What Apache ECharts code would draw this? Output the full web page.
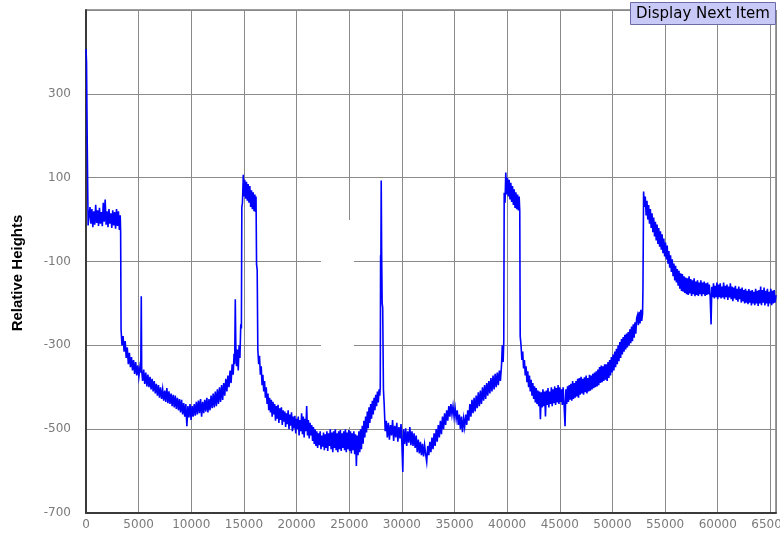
<!DOCTYPE html>
<html>
<head>
<meta charset="utf-8">
<script src="https://cdn.jsdelivr.net/npm/echarts@6/dist/echarts.min.js"></script>
<style>html,body{margin:0;padding:0;background:#fff}#chart{width:780px;height:533px}</style>
</head>
<body>
<div id="chart"></div>
<script>
// ---- data: [position, relative height] ----
const yAxisTitle = 'Relative Heights';
const buttonLabel = 'Display Next Item';
const xTickStep = 5000, xMax = 65536;
const yMin = -700, yMax = 500, yTickStep = 200;

const startSpike = [[0,407],[50,376],[100,376],[120,174],[180,174],[200,-14]];
const firstShelf = [[285,-15],[380,30],[470,-10],[560,25],[650,-18],[740,20],[830,-12],[920,35],[1010,-8],[1100,22],[1190,-15],[1280,28],[1370,-10],[1460,18],[1550,-16],[1640,40],[1730,-5],[1820,48],[1910,-12],[2000,20],[2090,-18],[2180,25],[2270,-10],[2360,15],[2450,-20],[2540,22],[2630,-14],[2720,18],[2810,-22],[2900,25],[2990,-15],[3080,20],[3170,-25],[3250,10],[3290,-30]];
const firstTrough = [[3330,-262],[3420,-300],[3520,-278],[3620,-315],[3720,-290],[3820,-330],[3920,-305],[4020,-345],[4120,-318],[4220,-352],[4320,-328],[4420,-360],[4520,-335],[4620,-368],[4720,-340],[4820,-372],[4920,-348],[5020,-375],[5120,-352],[5200,-365],[5250,-183],[5290,-360],[5380,-385],[5480,-358],[5580,-392],[5680,-365],[5780,-398],[5880,-370],[5980,-400],[6080,-375],[6180,-405],[6280,-380],[6380,-410],[6480,-385],[6580,-415],[6680,-392],[6780,-420],[6880,-395],[6980,-425],[7080,-400],[7180,-428],[7280,-405],[7380,-432],[7480,-408],[7580,-435],[7680,-402],[7780,-438],[7880,-410],[7980,-440],[8080,-415],[8180,-445],[8280,-418],[8380,-448],[8480,-420],[8580,-452],[8680,-425],[8780,-455],[8880,-428],[8980,-460],[9080,-430],[9180,-465],[9280,-438],[9380,-470],[9480,-440],[9580,-493],[9680,-445],[9780,-472],[9880,-440],[9980,-478],[10080,-445],[10180,-470],[10280,-440],[10380,-468],[10480,-435],[10580,-465],[10680,-432],[10780,-462],[10880,-428],[10980,-470],[11080,-435],[11180,-462],[11280,-430],[11380,-458],[11480,-425],[11580,-460],[11680,-428],[11780,-455],[11880,-420],[11980,-450],[12080,-415],[12180,-448],[12280,-410],[12380,-445],[12480,-405],[12580,-440],[12680,-400],[12780,-435],[12880,-395],[12980,-430],[13080,-390],[13180,-420],[13280,-380],[13380,-410],[13480,-372],[13580,-400],[13680,-360],[13780,-390],[13880,-345],[13980,-370],[14060,-320],[14120,-345],[14180,-190],[14230,-300],[14300,-350],[14380,-310],[14460,-360],[14540,-300],[14620,-330],[14700,-250],[14760,-260]];
const firstPeak = [[14800,30],[14860,40],[14940,107],[15000,55],[15080,95],[15160,50],[15240,90],[15320,45],[15400,85],[15480,40],[15560,80],[15640,30],[15720,70],[15800,25],[15880,65],[15960,20],[16040,60],[16100,18],[16150,55]];
const secondTrough = [[16200,-107],[16260,-120],[16320,-310],[16400,-345],[16480,-325],[16560,-370],[16640,-350],[16720,-395],[16800,-370],[16880,-410],[16960,-385],[17040,-425],[17120,-400],[17200,-440],[17280,-415],[17360,-455],[17440,-425],[17520,-460],[17600,-430],[17680,-470],[17760,-435],[17840,-465],[17920,-440],[18000,-480],[18080,-445],[18160,-475],[18240,-442],[18320,-485],[18400,-450],[18480,-478],[18560,-448],[18640,-490],[18720,-455],[18800,-482],[18880,-458],[18960,-495],[19040,-462],[19120,-488],[19200,-455],[19280,-500],[19360,-465],[19440,-492],[19520,-460],[19600,-505],[19680,-470],[19760,-498],[19840,-468],[19920,-510],[20000,-475],[20080,-500],[20160,-470],[20240,-515],[20320,-478],[20400,-505],[20480,-462],[20560,-512],[20640,-470],[20720,-520],[20800,-475],[20880,-505],[20960,-445],[21040,-515],[21120,-478],[21200,-522],[21280,-485],[21360,-515],[21440,-490],[21520,-528],[21600,-495],[21680,-535],[21760,-500],[21840,-540],[21920,-505],[22000,-545],[22080,-510],[22160,-538],[22240,-505],[22320,-548],[22400,-515],[22480,-542],[22560,-508],[22640,-550],[22720,-512],[22800,-545],[22880,-505],[22960,-552],[23040,-510],[23120,-540],[23200,-500],[23280,-548],[23360,-508],[23440,-555],[23520,-505],[23600,-545],[23680,-500],[23760,-550],[23840,-510],[23920,-555],[24000,-505],[24080,-548],[24160,-502],[24240,-552],[24320,-510],[24400,-545],[24480,-505],[24560,-550],[24640,-500],[24720,-555],[24800,-508],[24880,-548],[24960,-502],[25040,-552],[25120,-505],[25200,-558],[25280,-510],[25360,-550],[25440,-505],[25520,-560],[25600,-512],[25680,-588],[25760,-515],[25840,-562],[25920,-505],[26000,-555],[26080,-500],[26160,-548],[26240,-492],[26320,-535],[26400,-480],[26480,-520],[26560,-470],[26640,-508],[26720,-458],[26800,-498],[26880,-448],[26960,-485],[27040,-440],[27120,-475],[27200,-432],[27280,-465],[27360,-425],[27440,-455],[27520,-418],[27600,-445],[27680,-410],[27760,-436],[27840,-405],[27900,-420]];
const narrowSpike = [[27950,-400],[27980,-85],[28010,-90],[28040,93],[28080,-80],[28130,-200],[28180,-210],[28250,-405]];
const thirdTrough = [[28320,-440],[28420,-505],[28520,-480],[28620,-520],[28720,-485],[28820,-525],[28920,-490],[29020,-515],[29120,-478],[29220,-528],[29320,-492],[29420,-520],[29520,-485],[29620,-530],[29720,-495],[29820,-522],[29920,-488],[30000,-532],[30090,-602],[30160,-500],[30260,-535],[30360,-498],[30460,-540],[30560,-505],[30660,-532],[30760,-495],[30860,-538],[30960,-505],[31060,-540],[31160,-510],[31260,-545],[31360,-515],[31460,-555],[31560,-525],[31660,-558],[31760,-530],[31860,-562],[31960,-535],[32060,-565],[32160,-538],[32260,-560],[32360,-578],[32460,-540],[32560,-562],[32660,-530],[32760,-555],[32860,-520],[32960,-548],[33060,-510],[33160,-540],[33260,-500],[33360,-530],[33460,-490],[33560,-520],[33660,-480],[33760,-512],[33860,-470],[33960,-500],[34060,-462],[34160,-490],[34260,-455],[34360,-480],[34460,-445],[34560,-470],[34660,-440],[34760,-465],[34860,-445],[34960,-470],[35060,-450],[35160,-475],[35260,-455],[35360,-490],[35460,-465],[35560,-500],[35660,-470],[35760,-507],[35860,-475],[35960,-495],[36060,-465],[36160,-490],[36260,-455],[36360,-480],[36460,-440],[36560,-470],[36660,-430],[36760,-462],[36860,-425],[36960,-458],[37060,-420],[37160,-450],[37260,-412],[37360,-445],[37460,-408],[37560,-440],[37660,-400],[37760,-432],[37860,-395],[37960,-428],[38060,-390],[38160,-420],[38260,-385],[38360,-415],[38460,-378],[38560,-410],[38660,-372],[38760,-405],[38860,-368],[38960,-400],[39060,-365],[39160,-395],[39260,-360],[39360,-385],[39460,-350],[39540,-300],[39620,-340],[39680,-290]];
const secondPeak = [[39720,64],[39800,40],[39870,112],[39950,60],[40030,100],[40110,55],[40190,95],[40270,48],[40350,88],[40430,42],[40510,80],[40590,35],[40670,72],[40750,28],[40830,65],[40910,25],[40990,60],[41070,22],[41140,55],[41200,20]];
const fourthTrough = [[41240,-278],[41320,-300],[41400,-335],[41480,-315],[41560,-355],[41640,-335],[41720,-372],[41800,-350],[41880,-388],[41960,-362],[42040,-400],[42120,-372],[42200,-410],[42280,-382],[42360,-420],[42440,-390],[42520,-428],[42600,-398],[42680,-436],[42760,-402],[42840,-440],[42920,-408],[43000,-445],[43080,-410],[43160,-476],[43240,-412],[43320,-448],[43400,-405],[43480,-445],[43560,-410],[43640,-470],[43720,-408],[43800,-442],[43880,-402],[43960,-448],[44040,-410],[44120,-440],[44200,-400],[44280,-445],[44360,-405],[44440,-438],[44520,-398],[44600,-442],[44680,-402],[44760,-436],[44840,-395],[44920,-440],[45000,-400],[45080,-435],[45160,-405],[45240,-442],[45320,-400],[45400,-438],[45500,-493],[45580,-405],[45660,-440],[45740,-398],[45820,-435],[45900,-395],[45980,-430],[46060,-392],[46140,-432],[46220,-385],[46300,-428],[46380,-390],[46460,-425],[46540,-385],[46620,-422],[46700,-380],[46780,-425],[46860,-378],[46940,-418],[47020,-375],[47100,-415],[47180,-380],[47260,-418],[47340,-376],[47420,-412],[47500,-372],[47580,-415],[47660,-378],[47740,-410],[47820,-370],[47900,-408],[47980,-372],[48060,-405],[48140,-368],[48220,-402],[48300,-365],[48380,-400],[48460,-362],[48540,-398],[48620,-358],[48700,-395],[48780,-352],[48860,-390],[48940,-348],[49020,-388],[49100,-350],[49180,-385],[49260,-345],[49340,-382],[49420,-345],[49500,-385],[49580,-340],[49660,-378],[49740,-335],[49820,-372],[49900,-328],[49980,-365],[50060,-322],[50140,-360],[50220,-315],[50300,-352],[50380,-308],[50460,-345],[50540,-300],[50620,-338],[50700,-292],[50780,-330],[50860,-285],[50940,-322],[51020,-280],[51100,-315],[51180,-275],[51260,-310],[51340,-272],[51420,-305],[51500,-268],[51580,-300],[51660,-262],[51740,-295],[51820,-255],[51900,-290],[51980,-250],[52060,-282],[52140,-245],[52220,-272],[52300,-235],[52380,-228],[52460,-252],[52540,-220],[52620,-248],[52700,-215],[52780,-242],[52860,-225],[52900,-167]];
const decayTail = [[52960,67],[53040,30],[53120,55],[53200,10],[53280,45],[53360,0],[53440,35],[53520,-10],[53600,25],[53680,-20],[53760,15],[53840,-30],[53920,5],[54000,-40],[54080,-5],[54160,-50],[54240,-12],[54320,-58],[54400,-20],[54480,-65],[54560,-28],[54640,-72],[54720,-35],[54800,-80],[54880,-45],[54960,-88],[55040,-55],[55120,-95],[55200,-62],[55280,-105],[55360,-75],[55440,-115],[55520,-85],[55600,-125],[55680,-95],[55760,-135],[55840,-105],[55920,-145],[56000,-110],[56080,-150],[56160,-118],[56240,-158],[56320,-122],[56400,-165],[56480,-128],[56560,-170],[56640,-130],[56720,-172],[56800,-135],[56880,-175],[56960,-138],[57040,-178],[57120,-140],[57200,-180],[57280,-135],[57360,-176],[57440,-142],[57520,-182],[57600,-145],[57680,-178],[57760,-140],[57840,-183],[57920,-148],[58000,-180],[58080,-145],[58160,-182],[58240,-150],[58320,-178],[58400,-145],[58480,-183],[58560,-150],[58640,-178],[58720,-148],[58800,-182],[58880,-152],[58960,-180],[59040,-150],[59120,-178],[59200,-155],[59280,-182],[59370,-250],[59440,-160],[59520,-185],[59600,-152],[59680,-188],[59760,-158],[59840,-185],[59920,-150],[60000,-190],[60080,-155],[60160,-185],[60240,-152],[60320,-188],[60400,-160],[60480,-186],[60560,-150],[60640,-190],[60720,-158],[60800,-185],[60880,-155],[60960,-192],[61040,-160],[61120,-186],[61200,-152],[61280,-190],[61360,-160],[61440,-195],[61520,-162],[61600,-188],[61680,-158],[61760,-192],[61840,-165],[61920,-196],[62000,-160],[62080,-190],[62160,-165],[62240,-198],[62320,-162],[62400,-195],[62480,-168],[62560,-200],[62640,-165],[62720,-198],[62800,-170],[62880,-202],[62960,-166],[63040,-198],[63120,-170],[63200,-205],[63280,-168],[63360,-200],[63440,-172],[63520,-204],[63600,-165],[63680,-200],[63760,-170],[63840,-206],[63920,-168],[64000,-200],[64080,-160],[64160,-204],[64240,-168],[64320,-198],[64400,-162],[64480,-205],[64560,-170],[64640,-200],[64720,-165],[64800,-207],[64880,-172],[64960,-200],[65040,-165],[65120,-204],[65200,-170],[65280,-200],[65360,-168],[65440,-198],[65536,-180]];

const profile = [].concat(startSpike, firstShelf, firstTrough, firstPeak, secondTrough, narrowSpike, thirdTrough, secondPeak, fourthTrough, decayTail);

const chart = echarts.init(document.getElementById('chart'), null, {renderer: 'canvas'});
const labelFont = {color: '#7a7a7a', fontSize: 12, fontFamily: 'DejaVu Sans'};
const plain = v => String(v);
chart.setOption({
  animation: false,
  backgroundColor: '#ffffff',
  grid: {left: 86, right: 4, top: 10, bottom: 20, show: true, borderColor: '#3a3a3a', borderWidth: 1, containLabel: false, outerBoundsMode: 'none'},
  xAxis: {
    type: 'value', min: 0, max: xMax, interval: xTickStep,
    axisLine: {show: true, onZero: false, lineStyle: {color: '#3a3a3a', width: 2}},
    axisTick: {show: false},
    axisLabel: Object.assign({margin: 6, showMaxLabel: false, showMinLabel: true, hideOverlap: false, formatter: plain}, labelFont),
    splitLine: {show: true, lineStyle: {color: '#8a8a8a', width: 1}}
  },
  yAxis: {
    type: 'value', min: yMin, max: yMax, interval: yTickStep,
    axisLine: {show: true, onZero: false, lineStyle: {color: '#3a3a3a', width: 2}},
    axisTick: {show: false},
    axisLabel: Object.assign({margin: 15, showMaxLabel: false, showMinLabel: true, formatter: plain}, labelFont),
    splitLine: {show: true, lineStyle: {color: '#8a8a8a', width: 1}}
  },
  graphic: [
    {type: 'rect', z: 1, silent: true, shape: {x: 321, y: 220, width: 33, height: 207}, style: {fill: '#ffffff'}},
    {type: 'text', z: 5, x: 18, y: 273, rotation: Math.PI / 2,
      style: {text: yAxisTitle, fill: '#000', font: 'bold 15px "Liberation Sans", Arial, sans-serif', textAlign: 'center', textVerticalAlign: 'middle', align: 'center', verticalAlign: 'middle'}},
    {type: 'group', z: 10, children: [
      {type: 'rect', z: 10, shape: {x: 630.5, y: 2.5, width: 145, height: 22}, style: {fill: '#c9c9f7', stroke: '#6b6ba6', lineWidth: 1}},
      {type: 'text', z: 11, x: 703, y: 14, style: {text: buttonLabel, fill: '#000', font: '15px "DejaVu Sans", sans-serif', textAlign: 'center', textVerticalAlign: 'middle', align: 'center', verticalAlign: 'middle'}}
    ]}
  ],
  series: [{
    type: 'line', data: profile, z: 3,
    showSymbol: false, symbol: 'none', sampling: null,
    lineStyle: {color: '#0000ff', width: 1.6, join: 'miter'},
    emphasis: {disabled: true}
  }]
});
</script>
</body>
</html>
